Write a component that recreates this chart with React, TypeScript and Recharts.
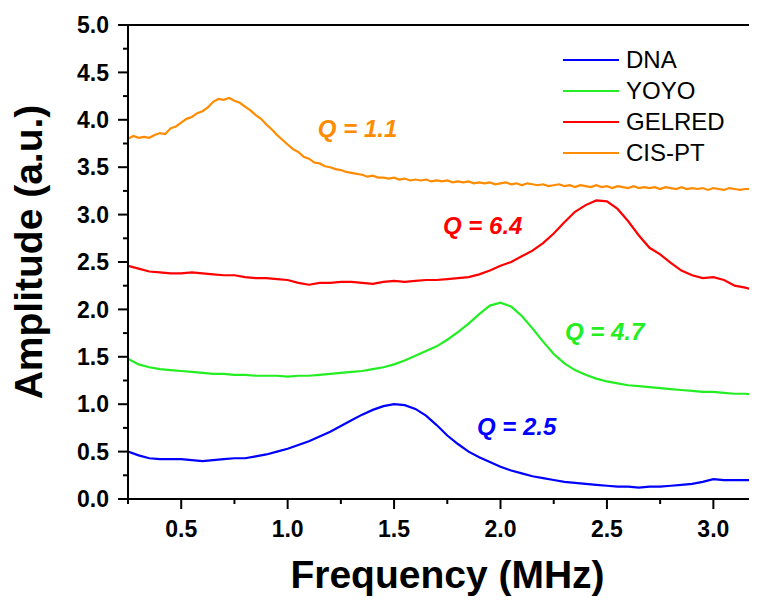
import React from "react";
import { LineChart, Line, XAxis, YAxis, ReferenceLine, ReferenceDot } from "recharts";

const frequencies = [
  0.25, 0.3, 0.35, 0.4, 0.45, 0.5, 0.55, 0.6, 0.65, 0.7, 0.75, 0.8, 0.85, 0.9, 0.95, 1.0,
  1.05, 1.1, 1.15, 1.2, 1.25, 1.3, 1.35, 1.4, 1.45, 1.5, 1.55, 1.6, 1.65, 1.7, 1.75, 1.8,
  1.85, 1.9, 1.95, 2.0, 2.05, 2.1, 2.15, 2.2, 2.25, 2.3, 2.35, 2.4, 2.45, 2.5, 2.55, 2.6,
  2.65, 2.7, 2.75, 2.8, 2.85, 2.9, 2.95, 3.0, 3.05, 3.1, 3.15, 3.2,
];

const dna = [
  0.5, 0.46, 0.43, 0.42, 0.42, 0.42, 0.41, 0.4, 0.41, 0.42, 0.43, 0.43, 0.45, 0.47, 0.5, 0.53,
  0.57, 0.61, 0.66, 0.71, 0.77, 0.83, 0.89, 0.94, 0.98, 1.0, 0.99, 0.95, 0.88, 0.78, 0.67, 0.58,
  0.5, 0.44, 0.39, 0.34, 0.3, 0.27, 0.24, 0.22, 0.2, 0.18, 0.17, 0.16, 0.15, 0.14, 0.13, 0.13,
  0.12, 0.13, 0.13, 0.14, 0.15, 0.16, 0.18, 0.21, 0.2, 0.2, 0.2, 0.2,
];

const yoyo = [
  1.48, 1.42, 1.39, 1.37, 1.36, 1.35, 1.34, 1.33, 1.32, 1.32, 1.31, 1.31, 1.3, 1.3, 1.3, 1.29,
  1.3, 1.3, 1.31, 1.32, 1.33, 1.34, 1.35, 1.37, 1.39, 1.42, 1.46, 1.51, 1.56, 1.61, 1.68, 1.76,
  1.85, 1.95, 2.04, 2.07, 2.03, 1.93, 1.8, 1.66, 1.53, 1.43, 1.36, 1.31, 1.27, 1.24, 1.22, 1.2,
  1.19, 1.18, 1.17, 1.16, 1.15, 1.14, 1.13, 1.13, 1.12, 1.11, 1.11, 1.1,
];

const gelred = [
  2.46, 2.43, 2.4, 2.39, 2.38, 2.38, 2.39, 2.38, 2.37, 2.36, 2.36, 2.34, 2.33, 2.33, 2.32, 2.31,
  2.28, 2.26, 2.28, 2.28, 2.29, 2.29, 2.28, 2.27, 2.29, 2.3, 2.29, 2.3, 2.31, 2.31, 2.32, 2.33,
  2.34, 2.37, 2.41, 2.46, 2.5, 2.56, 2.62, 2.7, 2.8, 2.92, 3.03, 3.1, 3.15, 3.14, 3.06, 2.93,
  2.78, 2.65, 2.58, 2.49, 2.41, 2.36, 2.33, 2.34, 2.31, 2.25, 2.23, 2.2,
];

// CIS-PT is noisier, so it is read on a finer frequency grid
const fineFrequencies = [
  0.25, 0.275, 0.3, 0.325, 0.35, 0.375, 0.4, 0.425,
  0.45, 0.475, 0.5, 0.525, 0.55, 0.575, 0.6, 0.625,
  0.65, 0.675, 0.7, 0.725, 0.75, 0.775, 0.8, 0.825,
  0.85, 0.875, 0.9, 0.925, 0.95, 0.975, 1.0, 1.025,
  1.05, 1.075, 1.1, 1.125, 1.15, 1.175, 1.2, 1.225,
  1.25, 1.275, 1.3, 1.325, 1.35, 1.375, 1.4, 1.425,
  1.45, 1.475, 1.5, 1.525, 1.55, 1.575, 1.6, 1.625,
  1.65, 1.675, 1.7, 1.725, 1.75, 1.775, 1.8, 1.825,
  1.85, 1.875, 1.9, 1.925, 1.95, 1.975, 2.0, 2.025,
  2.05, 2.075, 2.1, 2.125, 2.15, 2.175, 2.2, 2.225,
  2.25, 2.275, 2.3, 2.325, 2.35, 2.375, 2.4, 2.425,
  2.45, 2.475, 2.5, 2.525, 2.55, 2.575, 2.6, 2.625,
  2.65, 2.675, 2.7, 2.725, 2.75, 2.775, 2.8, 2.825,
  2.85, 2.875, 2.9, 2.925, 2.95, 2.975, 3.0, 3.025,
  3.05, 3.075, 3.1, 3.125, 3.15, 3.175, 3.2,
];

const cispt = [
  3.8, 3.83, 3.81, 3.82, 3.81, 3.84, 3.86, 3.85,
  3.91, 3.93, 3.97, 4.01, 4.03, 4.07, 4.09, 4.13,
  4.19, 4.22, 4.21, 4.23, 4.2, 4.18, 4.14, 4.1,
  4.05, 4.01, 3.95, 3.9, 3.84, 3.79, 3.74, 3.69,
  3.66, 3.61, 3.59, 3.55, 3.54, 3.51, 3.5, 3.48,
  3.47, 3.45, 3.44, 3.43, 3.42, 3.4, 3.41, 3.39,
  3.39, 3.38, 3.39, 3.37, 3.38, 3.36, 3.37, 3.36,
  3.37, 3.35, 3.36, 3.35, 3.36, 3.34, 3.35, 3.34,
  3.35, 3.33, 3.34, 3.33, 3.34, 3.32, 3.33, 3.34,
  3.32, 3.33, 3.31, 3.33, 3.32, 3.31, 3.32, 3.3,
  3.31, 3.32, 3.3, 3.31, 3.29, 3.31, 3.3, 3.29,
  3.31, 3.29, 3.3, 3.28, 3.3, 3.29, 3.28, 3.3,
  3.28, 3.29, 3.28, 3.29, 3.27, 3.29, 3.28, 3.27,
  3.29, 3.27, 3.28, 3.27, 3.28, 3.26, 3.28, 3.27,
  3.26, 3.28, 3.27, 3.26, 3.27, 3.27, 3.26,
];

const seriesNames = ["DNA", "YOYO", "GELRED", "CIS-PT"];
const seriesColors = ["#0000ff", "#22ee22", "#ff0000", "#ff8c00"];

const xTicks = [0.25, 0.5, 0.75, 1.0, 1.25, 1.5, 1.75, 2.0, 2.25, 2.5, 2.75, 3.0];
const yTicks = [0, 0.25, 0.5, 0.75, 1, 1.25, 1.5, 1.75, 2, 2.25, 2.5, 2.75, 3, 3.25, 3.5, 3.75, 4, 4.25, 4.5, 4.75, 5];

const qLabels = [
  { text: "Q = 1.1", x: 1.142, y: 3.82, color: "#ff8c00" },
  { text: "Q = 6.4", x: 1.73, y: 2.795, color: "#ff0000" },
  { text: "Q = 4.7", x: 2.303, y: 1.677, color: "#22ee22" },
  { text: "Q = 2.5", x: 1.889, y: 0.675, color: "#0000ff" },
];

const data = frequencies.map((f, i) => ({
  f,
  dna: dna[i],
  yoyo: yoyo[i],
  gelred: gelred[i],
}));

const fineData = fineFrequencies.map((f, i) => ({ f, cispt: cispt[i] }));

const FONT = "'Liberation Sans', Arial, sans-serif";
const LW = 2.2;

const isMajor = (v: number) => Math.abs(v * 2 - Math.round(v * 2)) < 1e-6;

const YTick = (props: any) => {
  const { x, y, payload } = props;
  const v = payload.value;
  if (isMajor(v)) {
    return (
      <g>
        <line x1={x - 10} y1={y} x2={x} y2={y} stroke="#000" strokeWidth={2} />
        <text x={x - 19} y={y} dy={8.2} textAnchor="end" fontFamily={FONT} fontWeight="bold" fontSize={23} fill="#000">
          {v.toFixed(1)}
        </text>
      </g>
    );
  }
  return <line x1={x - 5} y1={y} x2={x} y2={y} stroke="#000" strokeWidth={2} />;
};

const XTick = (props: any) => {
  const { x, y, payload } = props;
  const v = payload.value;
  if (isMajor(v)) {
    return (
      <g>
        <line x1={x} y1={y} x2={x} y2={y + 10} stroke="#000" strokeWidth={2} />
        <text x={x} y={y + 38} textAnchor="middle" fontFamily={FONT} fontWeight="bold" fontSize={23} fill="#000">
          {v.toFixed(1)}
        </text>
      </g>
    );
  }
  return <line x1={x} y1={y} x2={x} y2={y + 5} stroke="#000" strokeWidth={2} />;
};

const XTitle = (props: any) => {
  const vb = props.viewBox;
  return (
    <text x={vb.x + vb.width / 2 + 5} y={vb.y + 89} textAnchor="middle" fontFamily={FONT} fontWeight="bold" fontSize={39} fill="#000">
      Frequency (MHz)
    </text>
  );
};

const YTitle = (props: any) => {
  const vb = props.viewBox;
  const cx = 34;
  const cy = vb.y + vb.height / 2 - 10;
  return (
    <text x={cx} y={cy} transform={`rotate(-90 ${cx} ${cy})`} textAnchor="middle" fontFamily={FONT} fontWeight="bold" fontSize={39} fill="#000">
      Amplitude (a.u.)
    </text>
  );
};

const LegendBox = () => (
  <div style={{ position: "absolute", left: 555, top: 36, fontFamily: FONT, fontSize: 24, color: "#000" }}>
    {seriesNames.map((n, i) => (
      <div key={n} style={{ display: "flex", alignItems: "center", height: 31 }}>
        <div style={{ width: 56, height: 2, background: seriesColors[i], marginRight: 7 }} />
        <span style={{ lineHeight: "31px" }}>{n}</span>
      </div>
    ))}
  </div>
);

const QText = (color: string, text: string) => (props: any) => {
  const vb = props.viewBox;
  return (
    <text x={vb.x} y={vb.y} textAnchor="start" fontFamily={FONT} fontWeight="bold" fontStyle="italic" fontSize={24} fill={color}>
      {text}
    </text>
  );
};

export default function App() {
  return (
    <div style={{ position: "relative", width: 749, height: 593, background: "#fff" }}>
      <LineChart width={749} height={593} data={data} margin={{ top: 17, right: 0, bottom: 0, left: 0 }}>
        <XAxis
          dataKey="f"
          type="number"
          domain={[0.25, 3.205]}
          ticks={xTicks}
          allowDataOverflow
          height={102}
          tick={<XTick />}
          tickLine={false}
          tickSize={0}
          tickMargin={0}
          axisLine={{ stroke: "#000", strokeWidth: 2 }}
          interval={0}
          label={<XTitle />}
        />
        <YAxis
          type="number"
          domain={[0, 5]}
          ticks={yTicks}
          width={120}
          tick={<YTick />}
          tickLine={false}
          tickSize={0}
          tickMargin={0}
          axisLine={{ stroke: "#000", strokeWidth: 2 }}
          interval={0}
          label={<YTitle />}
        />
        <ReferenceLine y={5} stroke="#000" strokeWidth={2} />
        <Line dataKey="dna" name="DNA" stroke={seriesColors[0]} strokeWidth={LW} dot={false} type="linear" isAnimationActive={false} />
        <Line dataKey="yoyo" name="YOYO" stroke={seriesColors[1]} strokeWidth={LW} dot={false} type="linear" isAnimationActive={false} />
        <Line dataKey="gelred" name="GELRED" stroke={seriesColors[2]} strokeWidth={LW} dot={false} type="linear" isAnimationActive={false} />
        <Line data={fineData} dataKey="cispt" name="CIS-PT" stroke={seriesColors[3]} strokeWidth={LW} dot={false} type="linear" isAnimationActive={false} />
        {qLabels.map((q) => (
          <ReferenceDot key={q.text} x={q.x} y={q.y} r={0} fill="none" stroke="none" label={QText(q.color, q.text)} />
        ))}
      </LineChart>
      <LegendBox />
    </div>
  );
}
